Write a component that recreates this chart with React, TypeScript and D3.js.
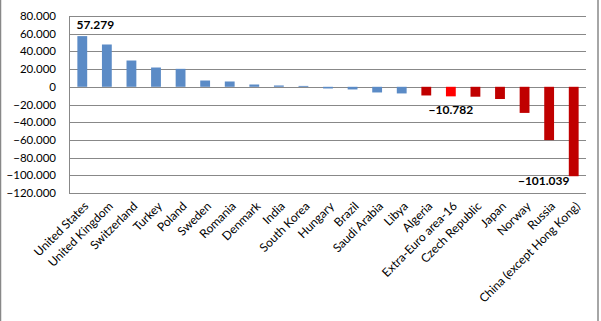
import React from "react";
import * as d3 from "d3";

const categories = [
  "United States", "United Kingdom", "Switzerland", "Turkey", "Poland", "Sweden",
  "Romania", "Denmark", "India", "South Korea", "Hungary", "Brazil", "Saudi Arabia",
  "Libya", "Algeria", "Extra-Euro area-16", "Czech Republic", "Japan", "Norway",
  "Russia", "China (except Hong Kong)",
];
const values = [
  57.279, 47.8, 29.7, 21.8, 20.3, 7.1, 6.0, 2.6, 1.5, 1.0, -1.9, -3.0, -6.4, -7.5,
  -9.8, -10.782, -11.2, -13.8, -29.5, -60.2, -101.039,
];
const labelled = [0, 15, 20];
const yTicks = [80, 60, 40, 20, 0, -20, -40, -60, -80, -100, -120];

const W = 601, H = 321;
const M = { left: 70, right: 586, top: 16, bottom: 193 };
const FONT = "Lato, 'Open Sans', sans-serif";

function colorFor(i: number, v: number) {
  if (categories[i] === "Extra-Euro area-16") return "#FF0000";
  return v < 0 && i >= 14 ? "#C00000" : "#5B8BC6";
}

export default function App() {
  const x = d3.scaleBand<string>().domain(categories).range([M.left, M.right]).paddingInner(0.6).paddingOuter(0.3);
  const y = d3.scaleLinear().domain([-120, 80]).range([M.bottom, M.top]);
  const fmt = (v: number) => (v === 0 ? "0" : d3.format(".3f")(v));
  const bw = x.bandwidth();

  return (
    <svg width={W} height={H} style={{ position: "absolute", left: 0, top: 0 }} fontFamily={FONT}>
      <rect x={0} y={0} width={W} height={H} fill="#fff" />
      <line x1={0.5} x2={0.5} y1={0} y2={H} stroke="#888" strokeWidth={1.5} />
      <line x1={598} x2={598} y1={0} y2={H} stroke="#888" strokeWidth={1.5} />
      {yTicks.map((t) => (
        <g key={t}>
          <line x1={M.left} x2={M.right} y1={Math.round(y(t)) + 0.5} y2={Math.round(y(t)) + 0.5} stroke="#888" />
          <text x={56} y={y(t)} dy="0.35em" textAnchor="end" fontSize={11.5} fill="#000">{fmt(t)}</text>
        </g>
      ))}
      <line x1={M.left - 0.5} x2={M.left - 0.5} y1={M.top} y2={M.bottom + 1} stroke="#888" />
      {values.map((v, i) => {
        const cx = (x(categories[i]) as number);
        const y0 = y(0), y1 = y(v);
        return (
          <rect key={i} x={cx} width={bw} y={Math.min(y0, y1)} height={Math.abs(y1 - y0)} fill={colorFor(i, v)} />
        );
      })}
      {labelled.map((i) => {
        const v = values[i];
        const cx = (x(categories[i]) as number) + bw / 2;
        let tx = cx, ty = 0;
        if (i === 0) { tx = cx + 13; ty = y(v) - 7; }
        else if (i === 15) { tx = cx; ty = y(v) + 18; }
        else { tx = cx - 30; ty = y(v) + 9; }
        return (
          <text key={i} x={tx} y={ty} textAnchor="middle" fontSize={12} fontWeight="bold" fill="#000">
            {d3.format(".3f")(v)}
          </text>
        );
      })}
      {categories.map((c) => {
        const cx = (x(c) as number) + bw / 2;
        return (
          <text key={c} transform={`translate(${cx + 1},${M.bottom + 8}) rotate(-45)`} textAnchor="end" dy="0.7em" fontSize={12} fill="#000">
            {c}
          </text>
        );
      })}
    </svg>
  );
}
